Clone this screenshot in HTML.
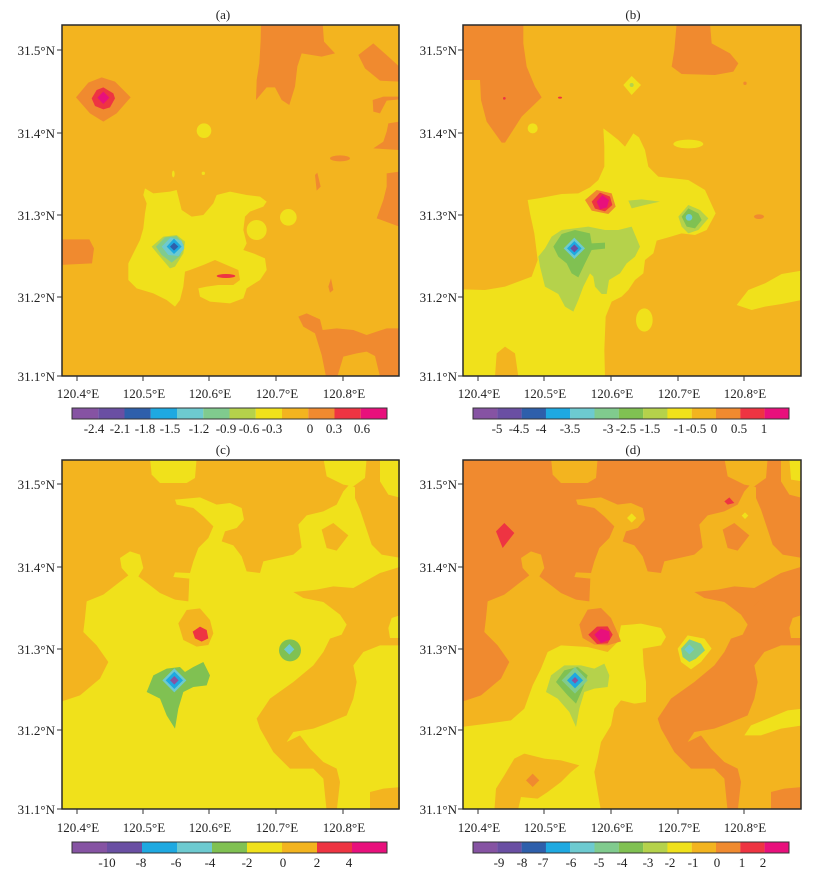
<!DOCTYPE html>
<html><head><meta charset="utf-8"><style>
body{margin:0;background:#fff}
svg text{font-family:"Liberation Serif","DejaVu Serif",serif;fill:#222;font-size:13px}
.t{fill:#f3b41f}.o{fill:#f08a2f}.y{fill:#f0e11b}.r{fill:#ee3442}.m{fill:#e8107c}
.yg{fill:#b5d24b}.g1{fill:#80cb8e}.g2{fill:#80c152}.c1{fill:#6dcad0}.b2{fill:#1ea9e1}
.b1{fill:#2e5fab}.p1{fill:#8653a3}.p2{fill:#6a4fa3}
</style></head><body>
<svg width="815" height="876" viewBox="0 0 815 876" xmlns="http://www.w3.org/2000/svg">
<defs>
<clipPath id="ca"><rect x="186" y="75" width="1012" height="1053"/></clipPath>
<clipPath id="cb"><rect x="175" y="75" width="1013" height="1053"/></clipPath>
<clipPath id="cc"><rect x="6" y="6" width="1014" height="1047"/></clipPath>
</defs>

<!-- ===== Panel (a) ===== -->
<g transform="scale(0.333333)" clip-path="url(#ca)">
<rect class="t" x="186" y="75" width="1012" height="1053"/>
<polygon class="o" points="783,70 968,70 972,125 1005,160 965,170 905,160 892,200 885,260 868,315 845,300 825,262 800,262 768,300 770,240 778,190 782,120"/>
<polygon class="o" points="1075,165 1120,130 1165,170 1198,200 1198,245 1140,242 1095,205"/>
<polygon class="o" points="1118,300 1150,290 1198,290 1198,298 1160,302 1140,340 1120,335"/>
<polygon class="o" points="1165,370 1198,365 1198,450 1120,445 1150,425 1160,395"/>
<polygon class="o" points="1160,520 1198,515 1198,680 1130,655 1150,600 1160,560"/>
<ellipse class="o" cx="1020" cy="475" rx="30" ry="9"/>
<polygon class="o" points="945,525 952,518 962,560 950,572"/>
<polygon class="o" points="985,860 993,835 1000,870 990,878"/>
<polygon class="o" points="895,950 920,940 960,958 968,990 1010,985 1060,990 1100,1005 1130,995 1160,985 1200,985 1200,1130 1140,1130 1125,1068 1100,1055 1070,1060 1030,1070 1012,1130 978,1130 965,1065 945,1000 910,980"/>
<polygon class="o" points="180,718 268,718 282,745 276,790 180,795"/>
<polygon class="o" points="305,232 345,245 392,292 350,340 310,365 270,340 228,292 265,248"/>
<polygon class="r" points="310,262 340,280 345,295 330,322 310,328 285,318 275,295 290,270"/>
<polygon class="m" points="310,275 328,293 310,312 292,293"/>
<polygon class="y" points="435,565 460,580 510,575 530,570 545,630 575,650 610,645 640,610 650,585 690,575 740,585 780,590 800,605 790,620 750,635 735,650 730,690 740,730 730,750 760,760 795,775 800,810 780,840 740,865 730,895 690,910 630,905 600,890 595,865 620,860 655,855 700,855 720,840 715,810 680,795 645,780 610,795 570,810 555,815 550,860 540,900 525,920 500,900 460,880 410,865 385,840 385,790 405,750 420,720 430,685 435,640 440,610 430,585"/>
<ellipse class="r" cx="678" cy="828" rx="28" ry="6"/>
<circle class="y" cx="612" cy="392" r="22"/>
<circle class="y" cx="865" cy="652" r="25"/>
<circle class="y" cx="770" cy="690" r="30"/>
<ellipse class="y" cx="520" cy="522" rx="4" ry="10"/>
<circle class="y" cx="610" cy="520" r="5"/>
<polygon class="yg" points="455,740 490,710 530,705 555,725 550,760 525,800 510,805 480,770"/>
<polygon class="g1" points="468,740 495,712 530,708 552,735 540,768 515,788 485,765"/>
<polygon class="c1" points="485,740 512,712 545,722 553,745 535,768 505,765"/>
<polygon class="b2" points="500,740 522,716 545,740 522,762"/>
<polygon class="b1" points="510,740 522,728 535,740 522,752"/>
</g>

<!-- ===== Panel (b) ===== -->
<g transform="translate(405,0) scale(0.333333)" clip-path="url(#cb)">
<rect class="t" x="175" y="75" width="1013" height="1053"/>
<polygon class="o" points="170,70 355,70 355,130 365,200 390,260 410,292 350,350 300,428 290,428 245,365 228,300 225,240 170,240"/>
<circle class="r" cx="298" cy="295" r="4"/>
<ellipse class="r" cx="465" cy="293" rx="6" ry="3"/>
<polygon class="o" points="815,70 915,70 920,130 975,160 1000,190 985,215 930,225 830,222 800,200 808,150"/>
<circle class="o" cx="1020" cy="250" r="5"/>
<ellipse class="o" cx="1062" cy="650" rx="15" ry="7"/>
<circle class="y" cx="383" cy="385" r="15"/>
<ellipse class="y" cx="850" cy="432" rx="45" ry="13"/>
<polygon class="y" points="655,255 680,228 708,255 680,285"/>
<circle class="yg" cx="680" cy="255" r="6"/>
<polygon class="y" points="595,385 615,400 640,420 660,440 685,400 702,412 720,450 730,500 760,530 850,540 900,570 932,640 905,690 870,705 830,700 790,712 755,722 745,760 720,780 715,820 690,840 670,870 650,890 620,905 602,950 600,1000 598,1050 600,1130 340,1130 330,1060 300,1040 275,1060 270,1130 170,1130 170,868 240,870 300,860 380,830 398,780 388,700 375,640 368,600 400,595 470,582 520,580 555,562 580,540 598,500 598,440"/>
<ellipse class="y" cx="718" cy="960" rx="25" ry="35"/>
<polygon class="y" points="995,915 1030,870 1080,850 1130,822 1190,812 1190,900 1130,912 1080,920 1040,930"/>
<polygon class="yg" points="440,710 470,690 550,680 600,690 640,690 680,680 705,740 690,770 665,790 645,820 612,840 605,882 590,882 570,860 565,830 555,820 535,860 520,900 505,935 480,920 460,882 420,860 405,800 400,770 420,745"/>
<polygon class="yg" points="670,602 710,598 765,605 720,615 680,625"/>
<polygon class="g2" points="445,740 470,702 510,690 555,700 560,730 600,728 600,746 560,750 540,790 520,832 500,820 485,790 460,770"/>
<polygon class="c1" points="476,745 508,713 540,745 508,777"/>
<polygon class="b2" points="486,745 508,723 530,745 508,767"/>
<polygon class="p2" points="496,745 508,733 520,745 508,757"/>
<polygon class="o" points="540,600 575,570 620,580 632,620 610,642 560,632"/>
<polygon class="r" points="560,605 585,578 615,590 622,615 600,634 570,626"/>
<polygon class="m" points="575,605 592,585 612,600 606,622 585,628"/>
<polygon class="yg" points="820,650 850,615 885,630 910,655 880,690 850,700 830,680"/>
<polygon class="g2" points="830,650 850,625 880,640 890,660 870,685 845,680"/>
<circle class="c1" cx="852" cy="652" r="10"/>
</g>

<!-- ===== Panel (c) ===== -->
<g transform="translate(60,458) scale(0.333333)" clip-path="url(#cc)">
<rect class="t" x="6" y="6" width="1014" height="1047"/>
<polygon class="y" points="0,1060 0,732 60,712 120,662 145,612 110,562 70,522 75,480 80,430 130,410 175,375 205,352 185,330 180,300 210,280 240,290 250,330 235,355 265,378 300,405 345,425 385,430 388,362 340,357 345,343 390,345 400,310 415,270 445,240 460,205 430,175 400,150 350,140 345,125 420,118 470,140 510,135 545,150 552,185 530,210 495,220 485,250 520,262 545,295 560,340 600,345 610,310 655,300 700,290 725,268 715,200 740,172 790,160 830,140 850,100 868,80 885,88 885,120 900,155 915,200 935,260 965,290 1025,300 1025,325 960,345 930,362 880,390 820,385 770,395 720,400 700,402 730,420 790,432 840,470 860,500 845,530 810,542 790,582 760,622 700,672 630,722 590,782 600,812 640,882 690,932 760,932 790,962 800,1060"/>
<polygon class="y" points="1025,562 960,562 910,582 880,622 890,672 880,722 860,772 800,797 760,812 700,822 680,852 720,832 750,872 790,912 830,932 840,972 830,1060 930,1060 930,1002 970,992 1025,987"/>
<polygon class="y" points="270,0 410,0 405,60 380,75 300,75 275,50"/>
<polygon class="y" points="790,0 920,0 915,60 880,85 850,80 800,55"/>
<polygon class="y" points="960,0 1025,0 1025,120 985,110 960,70"/>
<polygon class="y" points="995,480 1025,470 1025,540 990,540 985,510"/>
<polygon class="t" points="785,215 820,195 865,232 830,278 800,270"/>
<polygon class="t" points="355,496 380,456 420,451 450,486 460,526 445,561 410,566 370,546"/>
<polygon class="r" points="398,521 420,506 440,516 445,541 425,551 405,541"/>
<polygon class="g2" points="260,702 280,652 320,632 360,627 375,642 400,627 430,612 450,652 440,682 400,687 370,702 355,752 345,812 320,772 300,722"/>
<polygon class="c1" points="307,667 343,631 379,667 343,703"/>
<polygon class="b2" points="317,667 343,641 369,667 343,693"/>
<polygon class="p1" points="330,667 343,654 356,667 343,680"/>
<circle class="g2" cx="690" cy="577" r="33"/>
<polygon class="c1" points="672,574 688,558 703,574 688,590"/>
</g>

<!-- ===== Panel (d) ===== -->
<g transform="translate(461,458) scale(0.333333)" clip-path="url(#cc)">
<rect class="o" x="6" y="6" width="1014" height="1047"/>
<polygon class="t" points="0,1060 0,732 60,712 120,662 145,612 110,562 70,522 75,480 80,430 130,410 175,375 205,352 185,330 180,300 210,280 240,290 250,330 235,355 265,378 300,405 345,425 385,430 388,362 340,357 345,343 390,345 400,310 415,270 445,240 460,205 430,175 400,150 350,140 345,125 420,118 470,140 510,135 545,150 552,185 530,210 495,220 485,250 520,262 545,295 560,340 600,345 610,310 655,300 700,290 725,268 715,200 740,172 790,160 830,140 850,100 868,80 885,88 885,120 900,155 915,200 935,260 965,290 1025,300 1025,325 960,345 930,362 880,390 820,385 770,395 720,400 700,402 730,420 790,432 840,470 860,500 845,530 810,542 790,582 760,622 700,672 630,722 590,782 600,812 640,882 690,932 760,932 790,962 800,1060"/>
<polygon class="t" points="1025,562 960,562 910,582 880,622 890,672 880,722 860,772 800,797 760,812 700,822 680,852 720,832 750,872 790,912 830,932 840,972 830,1060 930,1060 930,1002 970,992 1025,987"/>
<polygon class="t" points="270,0 410,0 405,60 380,75 300,75 275,50"/>
<polygon class="t" points="790,0 920,0 915,60 880,85 850,80 800,55"/>
<polygon class="t" points="960,0 1025,0 1025,120 985,110 960,70"/>
<polygon class="y" points="985,0 1025,0 1025,70 990,65"/>
<polygon class="t" points="995,480 1025,470 1025,540 990,540 985,510"/>
<polygon class="o" points="785,215 820,195 865,232 830,278 800,270"/>
<polygon class="o" points="877,445 895,427 913,445 895,463"/>
<polygon class="y" points="0,1060 0,807 80,797 150,787 190,752 215,682 240,632 260,582 300,562 380,567 440,582 470,552 480,502 540,497 600,510 615,537 600,562 545,572 548,622 555,672 555,732 520,737 480,727 460,752 450,802 420,852 410,902 400,942 410,1002 420,1060"/>
<polygon class="t" points="100,1060 105,992 130,952 160,902 190,887 250,902 300,907 355,922 330,942 300,972 260,1002 230,1022 180,1017 170,1060"/>
<polygon class="o" points="195,967 215,947 235,967 215,987"/>
<polygon class="y" points="850,832 870,802 920,782 980,757 1025,752 1025,802 960,812 900,832"/>
<polygon class="y" points="498,180 512,166 526,180 512,194"/>
<polygon class="y" points="842,173 852,163 862,173 852,183"/>
<polygon class="r" points="105,220 130,195 160,225 125,270"/>
<polygon class="r" points="790,130 805,118 820,135 800,140"/>
<polygon class="o" points="355,500 380,455 420,450 450,480 470,525 480,550 440,562 400,560 365,540"/>
<polygon class="r" points="382,530 408,506 440,505 455,530 440,556 408,558"/>
<polygon class="m" points="400,530 420,512 445,520 447,545 420,555"/>
<polygon class="yg" points="255,702 270,652 310,622 360,622 400,632 430,617 445,652 440,687 400,692 370,702 355,752 345,807 325,762 290,722"/>
<polygon class="g2" points="285,672 310,637 350,627 380,652 365,692 345,737 320,712"/>
<polygon class="g1" points="302,667 342,627 380,667 342,707"/>
<polygon class="b2" points="318,667 342,643 366,667 342,691"/>
<polygon class="p1" points="332,667 342,657 352,667 342,677"/>
<polygon class="y" points="650,572 680,532 730,542 752,572 720,612 690,634 660,612"/>
<polygon class="g1" points="660,572 685,544 720,557 732,577 705,602 685,612 665,597"/>
<polygon class="c1" points="670,574 685,559 700,574 685,589"/>
</g>

<!-- ===== Frames ===== -->
<g fill="none" stroke="#2a2a2a" stroke-width="1.5">
<rect x="62" y="25" width="337" height="351"/>
<rect x="463" y="25" width="338" height="351"/>
<rect x="62" y="460" width="337" height="349"/>
<rect x="463" y="460" width="338" height="349"/>
</g>

<!-- ticks -->
<g stroke="#333" stroke-width="1">
<line x1="57" y1="50" x2="62" y2="50"/><line x1="57" y1="133" x2="62" y2="133"/><line x1="57" y1="215" x2="62" y2="215"/><line x1="57" y1="297" x2="62" y2="297"/><line x1="57" y1="376" x2="62" y2="376"/>
<line x1="458" y1="50" x2="463" y2="50"/><line x1="458" y1="133" x2="463" y2="133"/><line x1="458" y1="215" x2="463" y2="215"/><line x1="458" y1="297" x2="463" y2="297"/><line x1="458" y1="376" x2="463" y2="376"/>
<line x1="57" y1="484" x2="62" y2="484"/><line x1="57" y1="567" x2="62" y2="567"/><line x1="57" y1="649" x2="62" y2="649"/><line x1="57" y1="730" x2="62" y2="730"/><line x1="57" y1="809" x2="62" y2="809"/>
<line x1="458" y1="484" x2="463" y2="484"/><line x1="458" y1="567" x2="463" y2="567"/><line x1="458" y1="649" x2="463" y2="649"/><line x1="458" y1="730" x2="463" y2="730"/><line x1="458" y1="809" x2="463" y2="809"/>
<line x1="77" y1="376" x2="77" y2="381"/><line x1="143" y1="376" x2="143" y2="381"/><line x1="209" y1="376" x2="209" y2="381"/><line x1="276" y1="376" x2="276" y2="381"/><line x1="343" y1="376" x2="343" y2="381"/>
<line x1="478" y1="376" x2="478" y2="381"/><line x1="544" y1="376" x2="544" y2="381"/><line x1="611" y1="376" x2="611" y2="381"/><line x1="678" y1="376" x2="678" y2="381"/><line x1="744" y1="376" x2="744" y2="381"/>
<line x1="77" y1="809" x2="77" y2="814"/><line x1="143" y1="809" x2="143" y2="814"/><line x1="209" y1="809" x2="209" y2="814"/><line x1="276" y1="809" x2="276" y2="814"/><line x1="343" y1="809" x2="343" y2="814"/>
<line x1="478" y1="809" x2="478" y2="814"/><line x1="544" y1="809" x2="544" y2="814"/><line x1="611" y1="809" x2="611" y2="814"/><line x1="678" y1="809" x2="678" y2="814"/><line x1="744" y1="809" x2="744" y2="814"/>
</g>

<!-- titles -->
<g text-anchor="middle">
<text x="223" y="19">(a)</text>
<text x="633" y="19">(b)</text>
<text x="223" y="454">(c)</text>
<text x="633" y="454">(d)</text>
</g>

<!-- y labels -->
<g text-anchor="end">
<text x="55" y="55">31.5°N</text><text x="55" y="138">31.4°N</text><text x="55" y="220">31.3°N</text><text x="55" y="302">31.2°N</text><text x="55" y="381">31.1°N</text>
<text x="457" y="55">31.5°N</text><text x="457" y="138">31.4°N</text><text x="457" y="220">31.3°N</text><text x="457" y="302">31.2°N</text><text x="457" y="381">31.1°N</text>
<text x="55" y="489">31.5°N</text><text x="55" y="572">31.4°N</text><text x="55" y="654">31.3°N</text><text x="55" y="735">31.2°N</text><text x="55" y="814">31.1°N</text>
<text x="457" y="489">31.5°N</text><text x="457" y="572">31.4°N</text><text x="457" y="654">31.3°N</text><text x="457" y="735">31.2°N</text><text x="457" y="814">31.1°N</text>
</g>

<!-- x labels -->
<g text-anchor="middle">
<text x="78" y="398">120.4°E</text><text x="144" y="398">120.5°E</text><text x="210" y="398">120.6°E</text><text x="277" y="398">120.7°E</text><text x="344" y="398">120.8°E</text>
<text x="479" y="398">120.4°E</text><text x="545" y="398">120.5°E</text><text x="612" y="398">120.6°E</text><text x="679" y="398">120.7°E</text><text x="745" y="398">120.8°E</text>
<text x="78" y="832">120.4°E</text><text x="144" y="832">120.5°E</text><text x="210" y="832">120.6°E</text><text x="277" y="832">120.7°E</text><text x="344" y="832">120.8°E</text>
<text x="479" y="832">120.4°E</text><text x="545" y="832">120.5°E</text><text x="612" y="832">120.6°E</text><text x="679" y="832">120.7°E</text><text x="745" y="832">120.8°E</text>
</g>

<!-- colorbar (a) -->
<g>
<rect class="p1" x="72" y="408" width="26.3" height="11"/>
<rect class="p2" x="98.25" y="408" width="26.3" height="11"/>
<rect class="b1" x="124.5" y="408" width="26.3" height="11"/>
<rect class="b2" x="150.75" y="408" width="26.3" height="11"/>
<rect class="c1" x="177" y="408" width="26.3" height="11"/>
<rect class="g1" x="203.25" y="408" width="26.3" height="11"/>
<rect class="yg" x="229.5" y="408" width="26.3" height="11"/>
<rect class="y" x="255.75" y="408" width="26.3" height="11"/>
<rect class="t" x="282" y="408" width="26.3" height="11"/>
<rect class="o" x="308.25" y="408" width="26.3" height="11"/>
<rect class="r" x="334.5" y="408" width="26.3" height="11"/>
<rect class="m" x="360.75" y="408" width="26.25" height="11"/>
<rect x="72" y="408" width="315" height="11" fill="none" stroke="#333" stroke-width="1"/>
</g>
<g text-anchor="middle">
<text x="94" y="433">-2.4</text><text x="120" y="433">-2.1</text><text x="145" y="433">-1.8</text><text x="170" y="433">-1.5</text><text x="199" y="433">-1.2</text><text x="226" y="433">-0.9</text><text x="249" y="433">-0.6</text><text x="272" y="433">-0.3</text><text x="310" y="433">0</text><text x="334" y="433">0.3</text><text x="362" y="433">0.6</text>
</g>

<!-- colorbar (b) -->
<g>
<rect class="p1" x="473" y="408" width="24.4" height="11"/>
<rect class="p2" x="497.3" y="408" width="24.4" height="11"/>
<rect class="b1" x="521.6" y="408" width="24.4" height="11"/>
<rect class="b2" x="545.9" y="408" width="24.4" height="11"/>
<rect class="c1" x="570.2" y="408" width="24.4" height="11"/>
<rect class="g1" x="594.5" y="408" width="24.4" height="11"/>
<rect class="g2" x="618.8" y="408" width="24.4" height="11"/>
<rect class="yg" x="643.1" y="408" width="24.4" height="11"/>
<rect class="y" x="667.4" y="408" width="24.4" height="11"/>
<rect class="t" x="691.7" y="408" width="24.4" height="11"/>
<rect class="o" x="716" y="408" width="24.4" height="11"/>
<rect class="r" x="740.3" y="408" width="24.4" height="11"/>
<rect class="m" x="764.6" y="408" width="24.4" height="11"/>
<rect x="473" y="408" width="316" height="11" fill="none" stroke="#333" stroke-width="1"/>
</g>
<g text-anchor="middle">
<text x="497" y="433">-5</text><text x="519" y="433">-4.5</text><text x="541" y="433">-4</text><text x="570" y="433">-3.5</text><text x="608" y="433">-3</text><text x="626" y="433">-2.5</text><text x="650" y="433">-1.5</text><text x="679" y="433">-1</text><text x="696" y="433">-0.5</text><text x="714" y="433">0</text><text x="739" y="433">0.5</text><text x="764" y="433">1</text>
</g>

<!-- colorbar (c) -->
<g>
<rect class="p1" x="72" y="842" width="35.1" height="11"/>
<rect class="p2" x="107" y="842" width="35.1" height="11"/>
<rect class="b2" x="142" y="842" width="35.1" height="11"/>
<rect class="c1" x="177" y="842" width="35.1" height="11"/>
<rect class="g2" x="212" y="842" width="35.1" height="11"/>
<rect class="y" x="247" y="842" width="35.1" height="11"/>
<rect class="t" x="282" y="842" width="35.1" height="11"/>
<rect class="r" x="317" y="842" width="35.1" height="11"/>
<rect class="m" x="352" y="842" width="35" height="11"/>
<rect x="72" y="842" width="315" height="11" fill="none" stroke="#333" stroke-width="1"/>
</g>
<g text-anchor="middle">
<text x="107" y="867">-10</text><text x="141" y="867">-8</text><text x="176" y="867">-6</text><text x="210" y="867">-4</text><text x="247" y="867">-2</text><text x="283" y="867">0</text><text x="317" y="867">2</text><text x="349" y="867">4</text>
</g>

<!-- colorbar (d) -->
<g>
<rect class="p1" x="473" y="842" width="24.4" height="11"/>
<rect class="p2" x="497.3" y="842" width="24.4" height="11"/>
<rect class="b1" x="521.6" y="842" width="24.4" height="11"/>
<rect class="b2" x="545.9" y="842" width="24.4" height="11"/>
<rect class="c1" x="570.2" y="842" width="24.4" height="11"/>
<rect class="g1" x="594.5" y="842" width="24.4" height="11"/>
<rect class="g2" x="618.8" y="842" width="24.4" height="11"/>
<rect class="yg" x="643.1" y="842" width="24.4" height="11"/>
<rect class="y" x="667.4" y="842" width="24.4" height="11"/>
<rect class="t" x="691.7" y="842" width="24.4" height="11"/>
<rect class="o" x="716" y="842" width="24.4" height="11"/>
<rect class="r" x="740.3" y="842" width="24.4" height="11"/>
<rect class="m" x="764.6" y="842" width="24.4" height="11"/>
<rect x="473" y="842" width="316" height="11" fill="none" stroke="#333" stroke-width="1"/>
</g>
<g text-anchor="middle">
<text x="499" y="867">-9</text><text x="522" y="867">-8</text><text x="543" y="867">-7</text><text x="571" y="867">-6</text><text x="599" y="867">-5</text><text x="622" y="867">-4</text><text x="648" y="867">-3</text><text x="670" y="867">-2</text><text x="693" y="867">-1</text><text x="717" y="867">0</text><text x="742" y="867">1</text><text x="763" y="867">2</text>
</g>
</svg>
</body></html>
